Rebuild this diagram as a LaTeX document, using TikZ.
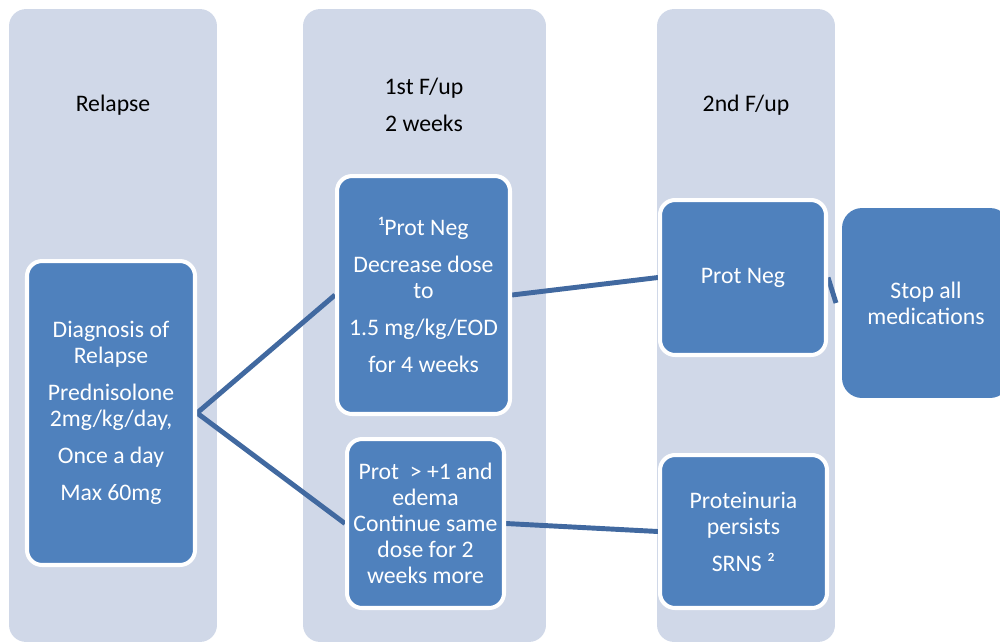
\documentclass[tikz,border=0pt]{standalone}
\usepackage{fontspec}
\setmainfont{Carlito}
\definecolor{colfill}{RGB}{208,216,232}
\definecolor{boxblue}{RGB}{79,129,189}
\definecolor{linkblue}{RGB}{65,105,160}
\pgfdeclarelayer{cols}
\pgfdeclarelayer{links}
\pgfsetlayers{cols,links,main}
\begin{document}
\begin{tikzpicture}[x=0.02cm,y=-0.02cm,
  every node/.style={font=\fontsize{13.5}{14.8}\selectfont, align=center, inner sep=0pt},
  column/.style={fill=colfill, rounded corners=0.34cm},
  header/.style={text=black},
  stage/.style={fill=boxblue, draw=white, line width=2.3pt, rounded corners=0.3cm, text=white},
  finalbox/.style={fill=boxblue, rounded corners=0.4cm, text=white},
  link/.style={draw=linkblue, line width=2.8pt}]
\useasboundingbox (0,0) rectangle (1000,643);
\clip (0,0) rectangle (1000,643);
% columns
\begin{pgfonlayer}{cols}
\node[column, minimum width=4.16cm, minimum height=12.66cm] (c1) at (113,325.5) {};
\node[column, minimum width=4.86cm, minimum height=12.66cm] (c2) at (424.5,325.5) {};
\node[column, minimum width=3.56cm, minimum height=12.66cm] (c3) at (746,325.5) {};
\end{pgfonlayer}
% headers
\node[header] (h1) at (113,105) {Relapse};
\node[header] (h2) at (424,105) {1st F/up\\[6.2pt]2 weeks};
\node[header] (h3) at (746,105) {2nd F/up};
% boxes
\node[stage, minimum width=3.36cm, minimum height=6.08cm] (b1) at (111,413)
  {\raisebox{0pt}{}Diagnosis of\\Relapse\\[6.2pt]Prednisolone\\2mg/kg/day,\\[6.2pt]Once a day\\[6pt]Max 60mg};
\node[stage, minimum width=3.46cm, minimum height=4.76cm] (b2) at (423.5,295)
  {¹Prot Neg\\[6.2pt]Decrease dose\\to\\[6.2pt]1.5 mg/kg/EOD\\[6.2pt]for 4 weeks};
\node[stage, minimum width=3.14cm, minimum height=3.38cm] (b3) at (425.5,523.5)
  {Prot~ > +1 and\\edema\\Continue same\\dose for 2\\weeks more};
\node[stage, minimum width=3.32cm, minimum height=3.10cm] (b4) at (743,277.5) {Prot Neg};
\node[stage, minimum width=3.34cm, minimum height=3.06cm] (b5) at (743.5,531.5)
  {Proteinuria\\persists\\[6.2pt]SRNS ²};
\node[finalbox, minimum width=3.36cm, minimum height=3.80cm] (b6) at (926,303)
  {Stop all\\medications};
% connectors
\coordinate (stopend) at (836,303);
\begin{pgfonlayer}{links}
\draw[link] (b2.west) -- (b1.east) -- (b3.west);
\draw[link] (b2.east) -- (b4.west);
\draw[link] (b3.east) -- (b5.west);
\draw[link] (b4.east) -- (stopend);
\end{pgfonlayer}
\end{tikzpicture}
\end{document}
